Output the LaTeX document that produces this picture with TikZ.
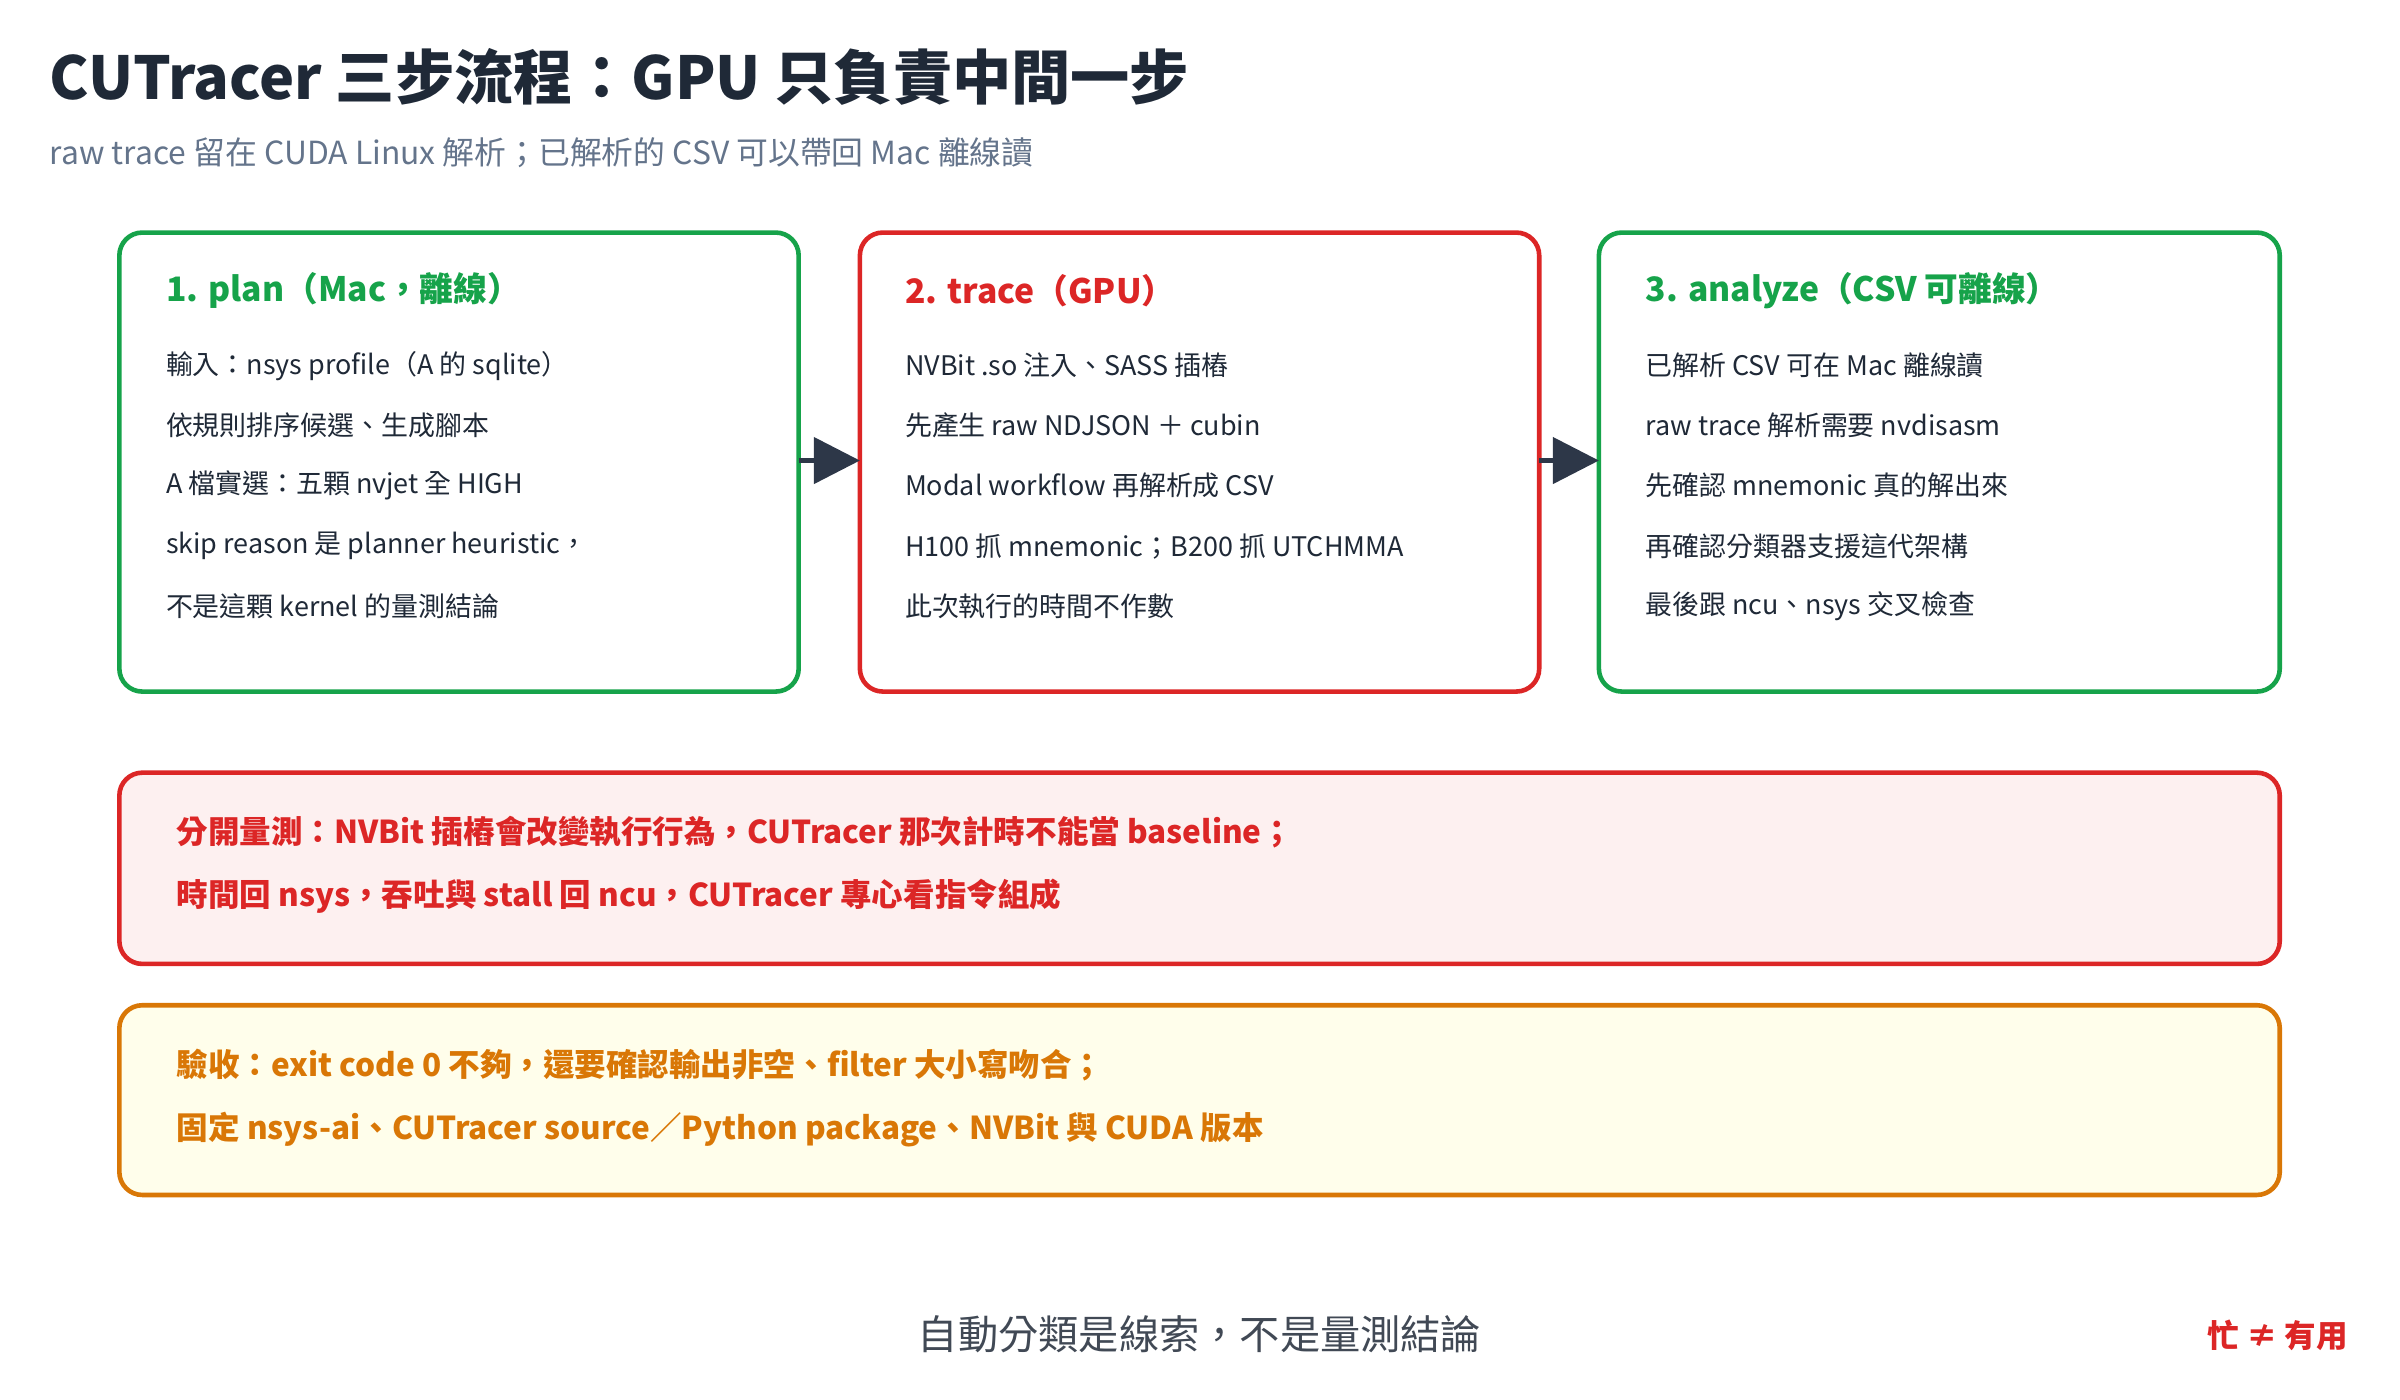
\documentclass[tikz,border=0pt]{standalone}
\usepackage{fontspec}
\setmainfont{Noto Sans CJK TC}
\usetikzlibrary{arrows.meta}
\definecolor{ink}{HTML}{1F2937}
\definecolor{sub}{HTML}{64748B}
\definecolor{grn}{HTML}{16A34A}
\definecolor{rd}{HTML}{DC2626}
\definecolor{org}{HTML}{D97706}
\definecolor{arr}{HTML}{2D3748}
\begin{document}
\begin{tikzpicture}[x=1pt,y=-1pt,
 box/.style={draw,line width=3pt,rounded corners=15pt,inner sep=0pt},
 hd/.style={anchor=west,font=\fontsize{22}{22}\selectfont\bfseries},
 ln/.style={anchor=west,text=ink,font=\fontsize{17.6}{18}\selectfont},
 bn/.style={anchor=west,font=\fontsize{20.6}{21}\selectfont\bfseries},
 arw/.style={draw=arr,line width=3pt,-{Triangle[length=30pt,width=30pt]},fill=arr}]
\useasboundingbox (0,0) rectangle (1568.6,915);
\node[anchor=west,text=ink,font=\fontsize{38.7}{39}\selectfont\bfseries] (title) at (29,50) {CUTracer 三步流程：GPU 只負責中間一步};
\node[anchor=west,text=sub,font=\fontsize{20.8}{21}\selectfont] (subt) at (29,100) {raw trace 留在 CUDA Linux 解析；已解析的 CSV 可以帶回 Mac 離線讀};
% boxes
\draw[box,draw=grn,fill=white] (78,152) rectangle (522,452);
\coordinate (b1) at (522,301);
\draw[box,draw=rd,fill=white] (562,152) rectangle (1006,452);
\coordinate (b2w) at (562,301);\coordinate (b2) at (1006,301);
\draw[box,draw=grn,fill=white] (1045,152) rectangle (1490,452);
\coordinate (b3w) at (1045,301);
\draw[arw] (b1) -- (b2w);
\draw[arw] (b2) -- (b3w);
\node[hd,text=grn] (h1) at (105,190) {1. plan（Mac，離線）};
\node[ln] (a1) at (105,239) {輸入：nsys profile（A 的 sqlite）};
\node[ln] (a2) at (105,278) {依規則排序候選、生成腳本};
\node[ln] (a3) at (105,317) {A 檔實選：五顆 nvjet 全 HIGH};
\node[ln] (a4) at (105,357) {skip reason 是 planner heuristic，};
\node[ln] (a5) at (105,396) {不是這顆 kernel 的量測結論};
\node[hd,text=rd] (h2) at (588,190) {2. trace（GPU）};
\node[ln] (c1) at (588,239) {NVBit .so 注入、SASS 插樁};
\node[ln] (c2) at (588,278) {先產生 raw NDJSON ＋ cubin};
\node[ln] (c3) at (588,317) {Modal workflow 再解析成 CSV};
\node[ln] (c4) at (588,357) {H100 抓 mnemonic；B200 抓 UTCHMMA};
\node[ln] (c5) at (588,396) {此次執行的時間不作數};
\node[hd,text=grn] (h3) at (1072,190) {3. analyze（CSV 可離線）};
\node[ln] (d1) at (1072,239) {已解析 CSV 可在 Mac 離線讀};
\node[ln] (d2) at (1072,278) {raw trace 解析需要 nvdisasm};
\node[ln] (d3) at (1072,317) {先確認 mnemonic 真的解出來};
\node[ln] (d4) at (1072,357) {再確認分類器支援這代架構};
\node[ln] (d5) at (1072,396) {最後跟 ncu、nsys 交叉檢查};
% notes
\draw[box,draw=rd,fill=rd!7] (78,505) rectangle (1490,630);
\node[bn,text=rd] (r1) at (112,544) {分開量測：NVBit 插樁會改變執行行為，CUTracer 那次計時不能當 baseline；};
\node[bn,text=rd] (r2) at (112,586) {時間回 nsys，吞吐與 stall 回 ncu，CUTracer 專心看指令組成};
\draw[box,draw=org,fill=yellow!8] (78,657) rectangle (1490,781);
\node[bn,text=org] (o1) at (112,696) {驗收：exit code 0 不夠，還要確認輸出非空、filter 大小寫吻合；};
\node[bn,text=org] (o2) at (112,738) {固定 nsys-ai、CUTracer source／Python package、NVBit 與 CUDA 版本};
\node[text=ink!85,font=\fontsize{26.3}{27}\selectfont] (cap) at (784,872) {自動分類是線索，不是量測結論};
\node[anchor=east,text=rd,font=\fontsize{20.6}{21}\selectfont\bfseries] (busy) at (1538,873) {忙 ≠ 有用};
\end{tikzpicture}
\end{document}
